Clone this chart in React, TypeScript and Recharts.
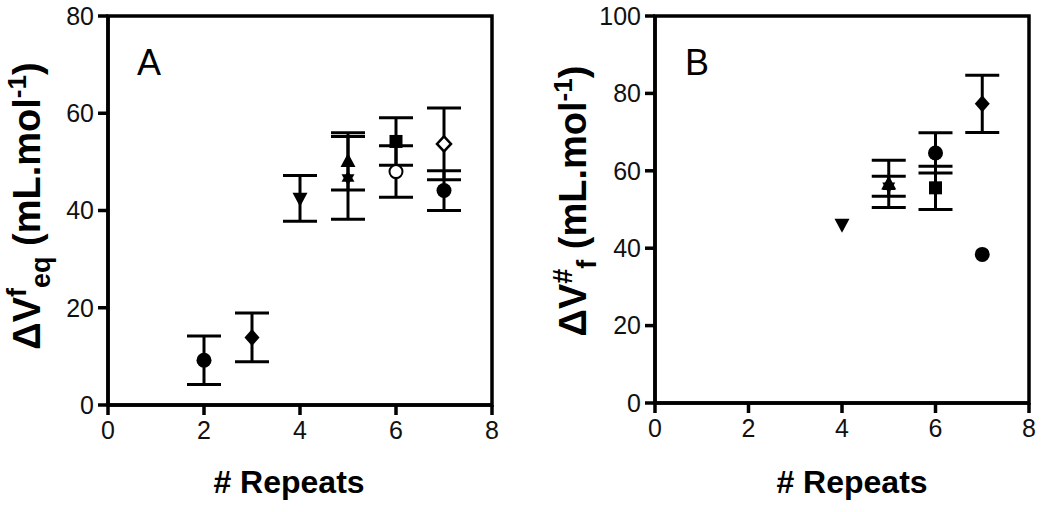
import React from "react";
import { ScatterChart, Scatter, XAxis, YAxis, ErrorBar, ReferenceArea } from "recharts";

// ---------- data ----------
const xTicks = [0, 2, 4, 6, 8];
const yTicksA = [0, 20, 40, 60, 80];
const yTicksB = [0, 20, 40, 60, 80, 100];

// Panel A: ΔV f eq
const aCircle = [{ x: 2, y: 9.2, e: 5.0 }, { x: 7, y: 44.1, e: 4.1 }];
const aDiamond = [{ x: 3, y: 13.9, e: 5.0 }];
const aTriDown = [{ x: 4, y: 42.5, e: 4.7 }];
const aTriUp = [{ x: 5, y: 50.1, e: 5.9 }];
const aStar = [{ x: 5, y: 46.7, e: 8.5 }];
const aSquare = [{ x: 6, y: 54.2, e: 4.9 }];
const aOpenCircle = [{ x: 6, y: 48.0, e: 5.3 }];
const aOpenDiamond = [{ x: 7, y: 53.7, e: 7.4 }];

// Panel B: ΔV # f
const bTriDown = [{ x: 4, y: 46.2 }];
const bTriUp = [{ x: 5, y: 56.6, e: 6.1 }];
const bStar = [{ x: 5, y: 56.0, e: 2.6 }];
const bCircle = [{ x: 6, y: 64.6, e: 5.2 }];
const bCircleNoErr = [{ x: 7, y: 38.4 }];
const bSquare = [{ x: 6, y: 55.6, e: 5.6 }];
const bDiamond = [{ x: 7, y: 77.3, e: 7.4 }];

const FONT = '"Liberation Sans", Arial, Helvetica, sans-serif';

// ---------- markers ----------
function Mark({ cx, cy, kind }: { cx: number; cy: number; kind: string }) {
  if (cx == null || cy == null) return null;
  switch (kind) {
    case "circle":
      return <circle cx={cx} cy={cy} r={7.5} fill="#000" />;
    case "openCircle":
      return <circle cx={cx} cy={cy} r={6.5} fill="#fff" stroke="#000" strokeWidth={2} />;
    case "square":
      return <rect x={cx - 6.5} y={cy - 6.5} width={13} height={13} fill="#000" />;
    case "diamond":
      return <path d={`M${cx},${cy - 8.5}L${cx + 7.5},${cy}L${cx},${cy + 8.5}L${cx - 7.5},${cy}Z`} fill="#000" />;
    case "openDiamond":
      return (
        <path
          d={`M${cx},${cy - 7.5}L${cx + 7},${cy}L${cx},${cy + 7.5}L${cx - 7},${cy}Z`}
          fill="#fff"
          stroke="#000"
          strokeWidth={2.5}
        />
      );
    case "triUp":
      return <path d={`M${cx},${cy - 8.5}L${cx + 7.5},${cy + 5.5}L${cx - 7.5},${cy + 5.5}Z`} fill="#000" />;
    case "triDown":
      return <path d={`M${cx},${cy + 8.5}L${cx + 7.5},${cy - 5.5}L${cx - 7.5},${cy - 5.5}Z`} fill="#000" />;
    case "star": {
      const r = 7.5;
      const t1 = `M${cx},${cy - r}L${cx + r * 0.866},${cy + r / 2}L${cx - r * 0.866},${cy + r / 2}Z`;
      const t2 = `M${cx},${cy + r}L${cx - r * 0.866},${cy - r / 2}L${cx + r * 0.866},${cy - r / 2}Z`;
      return (
        <g>
          <path d={t1} fill="#000" />
          <path d={t2} fill="#000" />
        </g>
      );
    }
    default:
      return null;
  }
}

const shape = (kind: string) => (p: any) => <Mark cx={p.cx} cy={p.cy} kind={kind} />;

const errBar = (
  <ErrorBar dataKey="e" direction="y" width={17} strokeWidth={3} stroke="#000" isAnimationActive={false} />
);

const tickStyle = { fill: "#111", fontSize: 25, fontFamily: FONT };

function YTitle({ cx, cy, sup, sub, letter, letterX }: { cx: number; cy: number; sup: string; sub: string; letter: string; letterX: number }) {
  return (
    <g>
      <text
        x={cx}
        y={cy}
        transform={`rotate(-90 ${cx} ${cy})`}
        textAnchor="middle"
        fontFamily={FONT}
        fontWeight="bold"
        fontSize={38}
        fill="#000"
      >
        <tspan>ΔV</tspan>
        <tspan fontSize={27} dy={-14}>{sup}</tspan>
        <tspan fontSize={27} dy={24}>{sub}</tspan>
        <tspan dy={-10}> (mL.mol</tspan>
        <tspan fontSize={26} dy={-14}>-1</tspan>
        <tspan dy={14}>)</tspan>
      </text>
      <text x={letterX} y={75} fontFamily={FONT} fontSize={36} fill="#000">
        {letter}
      </text>
    </g>
  );
}

const YTitleA = () => <YTitle cx={40} cy={206} sup="f" sub="eq" letter="A" letterX={137} />;
const YTitleB = () => <YTitle cx={586 - 520} cy={201} sup="#" sub="f" letter="B" letterX={685 - 520} />;

function XTitleA() {
  return (
    <text x={289} y={493} textAnchor="middle" fontFamily={FONT} fontWeight="bold" fontSize={32} fill="#000">
      # Repeats
    </text>
  );
}
function XTitleB() {
  return (
    <text x={852 - 520} y={493} textAnchor="middle" fontFamily={FONT} fontWeight="bold" fontSize={32} fill="#000">
      # Repeats
    </text>
  );
}

const axisLine = { stroke: "#000", strokeWidth: 3.5 };
const tickLine = { stroke: "#000", strokeWidth: 3.5 };

export default function App() {
  return (
    <div style={{ position: "absolute", left: 0, top: 0, width: 1050, height: 512, background: "#fff", display: "flex" }}>
      {/* Panel A */}
      <ScatterChart width={520} height={512} margin={{ top: 16, right: 28, bottom: 47, left: 8 }}>
        <XAxis
          type="number"
          dataKey="x"
          domain={[0, 8]}
          ticks={xTicks}
          allowDataOverflow
          height={60}
          stroke="#000"
          axisLine={axisLine}
          tickLine={tickLine}
          tickSize={10}
          tickMargin={6}
          tick={tickStyle}
          label={<XTitleA />}
        />
        <YAxis
          type="number"
          dataKey="y"
          domain={[0, 80]}
          ticks={yTicksA}
          allowDataOverflow
          width={100}
          stroke="#000"
          axisLine={axisLine}
          tickLine={tickLine}
          tickSize={10}
          tickMargin={4}
          tick={tickStyle}
          label={<YTitleA />}
        />
        <ReferenceArea x1={0} x2={8} y1={0} y2={80} fill="none" fillOpacity={0} stroke="#000" strokeWidth={3.5} strokeOpacity={1} ifOverflow="visible" />
        <Scatter data={aCircle} shape={shape("circle")} isAnimationActive={false}>{errBar}</Scatter>
        <Scatter data={aDiamond} shape={shape("diamond")} isAnimationActive={false}>{errBar}</Scatter>
        <Scatter data={aTriDown} shape={shape("triDown")} isAnimationActive={false}>{errBar}</Scatter>
        <Scatter data={aStar} shape={shape("star")} isAnimationActive={false}>{errBar}</Scatter>
        <Scatter data={aTriUp} shape={shape("triUp")} isAnimationActive={false}>{errBar}</Scatter>
        <Scatter data={aSquare} shape={shape("square")} isAnimationActive={false}>{errBar}</Scatter>
        <Scatter data={aOpenCircle} shape={shape("openCircle")} isAnimationActive={false}>{errBar}</Scatter>
        <Scatter data={aOpenDiamond} shape={shape("openDiamond")} isAnimationActive={false}>{errBar}</Scatter>
      </ScatterChart>

      {/* Panel B */}
      <ScatterChart width={530} height={512} margin={{ top: 16, right: 21, bottom: 49, left: 35 }}>
        <XAxis
          type="number"
          dataKey="x"
          domain={[0, 8]}
          ticks={xTicks}
          allowDataOverflow
          height={60}
          stroke="#000"
          axisLine={axisLine}
          tickLine={tickLine}
          tickSize={10}
          tickMargin={6}
          tick={tickStyle}
          label={<XTitleB />}
        />
        <YAxis
          type="number"
          dataKey="y"
          domain={[0, 100]}
          ticks={yTicksB}
          allowDataOverflow
          width={100}
          stroke="#000"
          axisLine={axisLine}
          tickLine={tickLine}
          tickSize={10}
          tickMargin={4}
          tick={tickStyle}
          label={<YTitleB />}
        />
        <ReferenceArea x1={0} x2={8} y1={0} y2={100} fill="none" fillOpacity={0} stroke="#000" strokeWidth={3.5} strokeOpacity={1} ifOverflow="visible" />
        <Scatter data={bTriDown} shape={shape("triDown")} isAnimationActive={false} />
        <Scatter data={bStar} shape={shape("star")} isAnimationActive={false}>{errBar}</Scatter>
        <Scatter data={bTriUp} shape={shape("triUp")} isAnimationActive={false}>{errBar}</Scatter>
        <Scatter data={bSquare} shape={shape("square")} isAnimationActive={false}>{errBar}</Scatter>
        <Scatter data={bCircle} shape={shape("circle")} isAnimationActive={false}>{errBar}</Scatter>
        <Scatter data={bCircleNoErr} shape={shape("circle")} isAnimationActive={false} />
        <Scatter data={bDiamond} shape={shape("diamond")} isAnimationActive={false}>{errBar}</Scatter>
      </ScatterChart>
    </div>
  );
}
